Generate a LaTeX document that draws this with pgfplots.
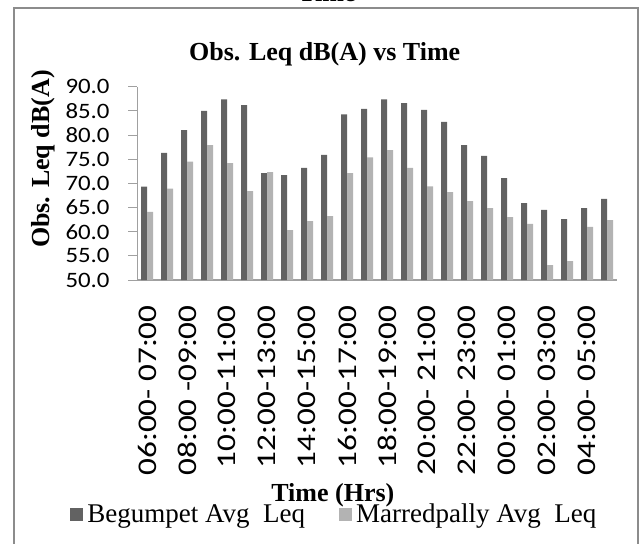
\documentclass[border=0pt]{standalone}
\usepackage{fontspec}
\setmainfont{Liberation Serif}
\newfontfamily\calibx[FakeStretch=1.23]{Carlito}
\newfontfamily\caliby[FakeStretch=1.13]{Carlito}
\usepackage{pgfplots}
\pgfplotsset{compat=1.18}

\definecolor{begum}{HTML}{626262}
\definecolor{marred}{HTML}{B3B3B3}
\definecolor{frame}{HTML}{8C8C8C}
\definecolor{axisgray}{HTML}{A0A0A0}

% 1 px of the reference = 0.5pt
\begin{document}
\begin{tikzpicture}
\clip (0,0) rectangle (320.5pt,271.5pt);
\draw[frame, line width=1pt] (7pt,-5pt) -- (7pt,267.5pt) -- (319pt,267.5pt) -- (319pt,-5pt);
\node[anchor=base, font=\bfseries\fontsize{13}{15}\selectfont] at (163.5pt,270.8pt) {Time};
\begin{axis}[
    at={(68.5pt,131.5pt)}, anchor=south west,
    scale only axis,
    width=240pt, height=96.65pt,
    xmin=-0.5, xmax=23.5, ymin=50, ymax=90,
    enlargelimits=false,
    ybar=0pt, bar width=3pt,
    axis x line*=bottom, axis y line*=left,
    x axis line style={draw=axisgray, line width=1pt, -},
    y axis line style={draw=axisgray, line width=0.5pt, -},
    ytick={50,55,...,90},
    tick align=outside,
    major tick length=4.5pt,
    ytick style={draw=axisgray, line width=0.5pt},
    xtick style={draw=none},
    xtick={0,2,...,22},
    xticklabels={06:00- 07:00, 08:00 -09:00, 10:00-11:00, 12:00-13:00, 14:00-15:00, 16:00-17:00, 18:00-19:00, 20:00- 21:00, 22:00- 23:00, 00:00- 01:00, 02:00- 03:00, 04:00- 05:00},
    xticklabel style={rotate=90, anchor=east, inner sep=0pt, font=\calibx\fontsize{13.5}{15}\selectfont},
    xticklabel shift=8pt,
    yticklabel style={anchor=east, inner sep=0pt, font=\caliby\fontsize{11}{13}\selectfont,
        /pgf/number format/fixed, /pgf/number format/fixed zerofill,
        /pgf/number format/precision=1, /pgf/number format/assume math mode=true},
    yticklabel shift=9pt,
    title={Obs. Leq dB(A) vs Time},
    title style={at={(axis description cs:0.391,1.138)}, anchor=base, inner sep=0pt, yshift=-6pt,
        font=\bfseries\fontsize{13}{15}\selectfont},
    xlabel={Time (Hrs)},
    xlabel style={at={(axis description cs:0.408,-1.145)}, anchor=base, inner sep=0pt,
        font=\bfseries\fontsize{13}{15}\selectfont},
    ylabel={Obs. Leq dB(A)},
    ylabel style={at={(axis description cs:-0.195,0.626)}, anchor=center, inner sep=0pt,
        font=\bfseries\fontsize{13}{15}\selectfont},
    legend style={draw=none, fill=none, inner sep=0pt,
        at={(axis description cs:-0.1396,-1.215)}, anchor=west,
        legend columns=2, font=\fontsize{13.5}{15}\selectfont,
        /tikz/every even column/.append style={column sep=15pt}},
    legend image code/.code={\fill[#1] (0pt,-3.25pt) rectangle (6.5pt,3.25pt);},
]
\addplot[fill=begum, draw=none] coordinates {
    (0,69.3) (1,76.3) (2,81.0) (3,85.0) (4,87.4) (5,86.2) (6,72.1) (7,71.7)
    (8,73.2) (9,75.9) (10,84.3) (11,85.4) (12,87.4) (13,86.6) (14,85.2) (15,82.7)
    (16,77.9) (17,75.7) (18,71.1) (19,65.9) (20,64.5) (21,62.6) (22,64.9) (23,66.8)
};
\addplot[fill=marred, draw=none] coordinates {
    (0,64.1) (1,68.9) (2,74.5) (3,77.9) (4,74.2) (5,68.4) (6,72.3) (7,60.3)
    (8,62.2) (9,63.2) (10,72.1) (11,75.4) (12,76.9) (13,73.2) (14,69.4) (15,68.2)
    (16,66.3) (17,64.9) (18,63.0) (19,61.6) (20,53.1) (21,53.9) (22,61.0) (23,62.4)
};
\legend{Begumpet Avg\ \ Leq, Marredpally Avg\ \ Leq}
\end{axis}
\end{tikzpicture}
\end{document}
